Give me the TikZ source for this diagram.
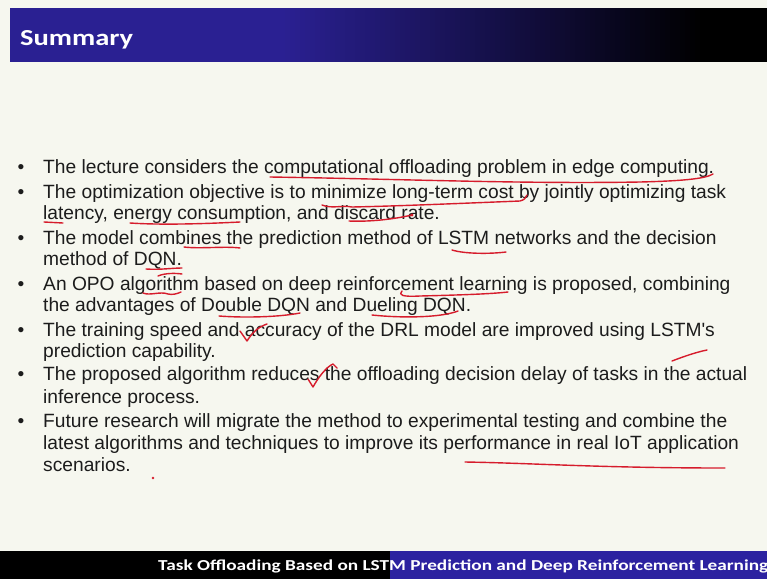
\documentclass[tikz,border=0pt]{standalone}
\usepackage{fontspec}
\usepackage{graphicx}
\setmainfont{Liberation Sans}
\newfontfamily\plainarial{Liberation Sans}
\newfontfamily\calib{Carlito}
\definecolor{bgc}{RGB}{246,247,239}
\definecolor{titleblue}{RGB}{42,32,146}
\definecolor{footblue}{RGB}{44,34,160}
\definecolor{ink}{RGB}{28,28,28}
\definecolor{redink}{RGB}{214,28,44}
\begin{document}
\begin{tikzpicture}[x=1pt,y=-1pt,
  txt/.style={anchor=base west, inner sep=0pt, text=ink, font=\fontsize{19.2}{23}\selectfont},
  bul/.style={anchor=base, inner sep=0pt, text=ink, font=\fontsize{19.2}{23}\selectfont},
  ann/.style={draw=redink, line width=1.4pt, line cap=round, line join=round}]
\useasboundingbox (0,0) rectangle (767,579);
\fill[bgc] (0,0) rectangle (767,579);
% title bar with stepwise gradient
\fill[titleblue] (10,8) rectangle (282,62);
\foreach \i in {0,...,84} {
  \pgfmathsetmacro\pc{100-\i*100/84}
  \fill[titleblue!\pc!black] (280+\i*5,8) rectangle (286+\i*5,62);
}
\fill[black] (704,8) rectangle (767,62);
\node[anchor=base west, inner sep=0pt, text=white] (title) at (20,45) {\resizebox{113pt}{15pt}{\calib\bfseries Summary}};
% footer
\fill[black] (0,551) rectangle (391,579);
\fill[footblue] (390,551) rectangle (767,579);
\node[anchor=base west, inner sep=0pt, text=white] (foot) at (158,570) {\resizebox{610pt}{10.7pt}{\calib\bfseries Task Offloading Based on LSTM Prediction and Deep Reinforcement Learning}};
% bullets
\foreach \yy/\nm in {173/b1,198/b2,244/b3,290/b4,336/b5,380/b6,427/b7}
  \node[bul] (\nm) at (21,\yy) {•};
% text lines
\node[txt] (l1) at (43,173) {The lecture considers the computational offloading problem in edge computing.};
\node[txt] (l2) at (43,198) {The optimization objective is to minimize long-term cost by jointly optimizing task};
\node[txt] (l3) at (43,219) {latency, energy consumption, and discard rate.};
\node[txt] (l4) at (43,244) {The model combines the prediction method of LSTM networks and the decision};
\node[txt] (l5) at (43,265) {method of DQN.};
\node[txt] (l6) at (43,290) {An OPO algorithm based on deep reinforcement learning is proposed, combining};
\node[txt] (l7) at (43,311) {the advantages of Double DQN and Dueling DQN.};
\node[txt] (l8) at (43,336) {The training speed and accuracy of the DRL model are improved using LSTM{\plainarial\char"0027}s};
\node[txt] (l9) at (43,357) {prediction capability.};
\node[txt] (l10) at (43,380) {The proposed algorithm reduces the offloading decision delay of tasks in the actual};
\node[txt] (l11) at (43,403) {inference process.};
\node[txt] (l12) at (43,427) {Future research will migrate the method to experimental testing and combine the};
\node[txt] (l13) at (43,449) {latest algorithms and techniques to improve its performance in real IoT application};
\node[txt] (l14) at (43,471) {scenarios.};
% red annotations
\draw[ann] (270,177) .. controls (400,179) and (520,184) .. (640,182) .. controls (680,181) and (705,179) .. (713,174);
\draw[ann] (322,205) .. controls (332,209) and (342,205) .. (352,207) .. controls (400,206) and (470,203) .. (520,201) .. controls (524,200) and (526,198) .. (527,195);
\draw[ann] (44,222) -- (63,223);
\draw[ann] (130,223) .. controls (160,225) and (200,224) .. (240,222);
\draw[ann] (349,221) .. controls (370,222) and (395,219) .. (412,215);
\fill[redink] (412,215) circle (1.6);
\draw[ann] (184,247) .. controls (200,249) and (225,246) .. (240,248);
\draw[ann] (452,250) .. controls (465,254) and (490,254) .. (506,252);
\draw[ann] (146,269) .. controls (160,270) and (172,268) .. (182,268);
\draw[ann] (158,276) .. controls (165,273) and (175,273) .. (182,274);
\draw[ann] (143,293) .. controls (150,296) and (160,291) .. (168,294) .. controls (172,295) and (177,294) .. (181,292);
\draw[ann] (402,291) .. controls (398,295) and (402,297) .. (420,296) .. controls (460,295) and (490,294) .. (508,292);
\draw[ann] (219,316) .. controls (245,318) and (280,317) .. (300,313);
\draw[ann] (372,315) .. controls (400,318) and (440,318) .. (458,311);
\draw[ann] (240,331) -- (247,341) .. controls (252,333) and (258,327) .. (267,324);
\draw[ann] (672,361) .. controls (685,356) and (697,352) .. (707,350);
\draw[ann] (308,379) -- (313,387) .. controls (318,378) and (326,367) .. (333,364) -- (337,368);
\draw[ann] (465,462) .. controls (530,463) and (600,468) .. (725,468);
\fill[redink] (153,478) circle (1.4);
\end{tikzpicture}
\end{document}
